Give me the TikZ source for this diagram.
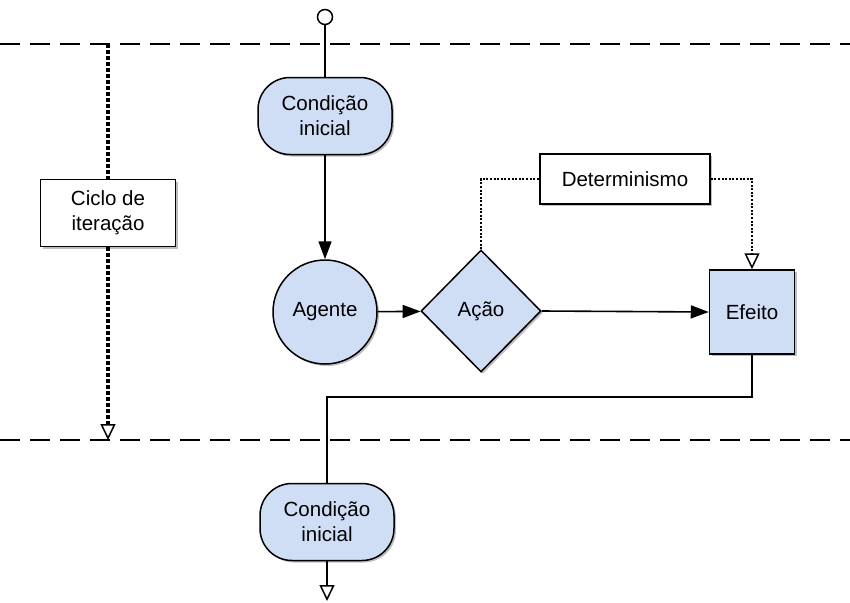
\documentclass[tikz,border=0pt]{standalone}
\usepackage{fontspec}
\setmainfont{Liberation Sans}
\usetikzlibrary{shapes.geometric,arrows.meta,shadows}
\definecolor{nodeblue}{RGB}{207,222,245}
\begin{document}
\begin{tikzpicture}[x=1pt,y=-1pt,
  every node/.style={font=\fontsize{20.5}{25}\selectfont, align=center, line width=1.5pt, inner sep=0pt},
  shd/.style={drop shadow={shadow xshift=2pt, shadow yshift=-2pt, opacity=0.25, fill=black}},
  condbox/.style={draw, fill=nodeblue, rounded corners=32pt, minimum width=134pt, minimum height=77pt, shd},
  bluebox/.style={draw, fill=nodeblue, shd},
  whitebox/.style={draw, fill=white, shd},
  conn/.style={line width=1.6pt},
  solidarrow/.style={conn, -{Triangle[length=18pt,width=13pt]}},
  openarrow/.style={-{Triangle[open,length=16pt,width=15pt,fill=white,line width=1.5pt]}},
  lane/.style={line width=1.6pt, dash pattern=on 20pt off 10pt},
  thindot/.style={line width=1.5pt, dash pattern=on 2pt off 1.6pt},
  thickdot/.style={line width=3.5pt, dash pattern=on 4pt off 2pt}
]
\useasboundingbox (0,0) rectangle (850,602);
% swimlane separators
\coordinate (l1a) at (0,44); \coordinate (l1b) at (850,44);
\coordinate (l2a) at (0,440); \coordinate (l2b) at (850,440);
\draw[lane] (l1a) -- (l1b);
\draw[lane] (l2a) -- (l2b);
% nodes
\node[circle, draw, fill=white, minimum size=15pt] (start) at (325,17) {};
\node[condbox] (c1) at (325,116) {Condição\\inicial};
\node[circle, bluebox, minimum size=104pt] (agente) at (325,312) {Agente};
\node[diamond, bluebox, minimum width=120pt, minimum height=122pt] (acao) at (481,311) {Ação};
\node[rectangle, bluebox, minimum width=85pt, minimum height=84pt] (efeito) at (752,312) {Efeito};
\node[rectangle, whitebox, minimum width=170pt, minimum height=50pt] (det) at (625,179) {Determinismo};
\node[rectangle, whitebox, minimum width=135pt, minimum height=67pt] (ciclo) at (108,213) {Ciclo de\\iteração};
\node[condbox] (c2) at (327,522) {Condição\\inicial};
\coordinate (ctop) at (108,44);
\coordinate (cbot) at (108,440);
\coordinate (bend) at (752,397);
\coordinate (endpt) at (327,601);
% connectors
\draw[conn] (start) -- (c1);
\draw[solidarrow] (c1) -- (agente);
\draw[solidarrow] (agente) -- (acao);
\draw[solidarrow] (acao.east) -- (efeito.west);
\draw[thindot] (acao.north) |- (det.west);
\draw[thindot, openarrow] (det.east) -| (efeito.north);
\draw[conn] (efeito.south) -- (bend) -| (c2.north);
\draw[conn, openarrow] (c2) -- (endpt);
\draw[thickdot] (ctop) -- (ciclo);
\draw[thickdot, openarrow] (ciclo) -- (cbot);
\end{tikzpicture}
\end{document}
